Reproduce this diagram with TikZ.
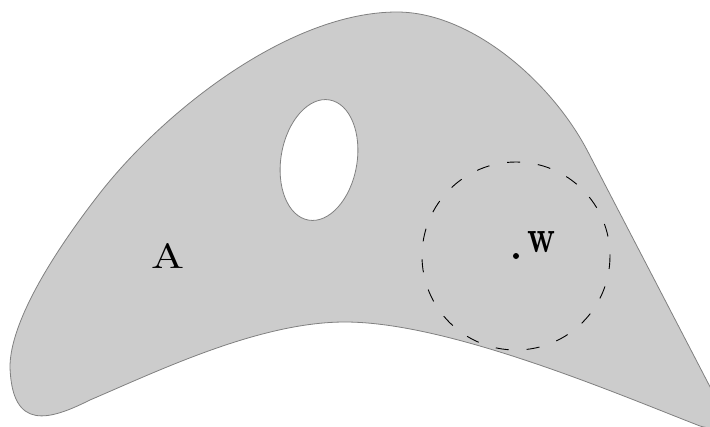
\documentclass[tikz,border=0pt]{standalone}
\usepackage{graphicx}
\begin{document}
\begin{tikzpicture}[x=1pt,y=-1pt,
  blob/.style={fill=black!20, draw=black!50, line width=0.8pt},
  hole/.style={fill=white, draw=black!50, line width=0.8pt},
  nbhd/.style={draw=black, line width=0.9pt, dash pattern=on 13pt off 18pt},
  lbl/.style={inner sep=0pt, anchor=base}]
\useasboundingbox (0,0) rectangle (710,426);
\clip (0,0) rectangle (710,426);
\draw[blob]
  (345,322) .. controls (260,322) and (160,370) .. (90,400)
  .. controls (50,420) and (12,432) .. (10,367)
  .. controls (10,330) and (40,270) .. (100,193)
  .. controls (165,110) and (290,12) .. (397,12)
  .. controls (470,12) and (550,80) .. (587,150)
  -- (720,406)
  .. controls (730,425) and (720,432) .. (700,426)
  .. controls (620,395) and (450,322) .. cycle;
\draw[hole] (319,160) ellipse [x radius=38, y radius=61, rotate=-10];
\coordinate (w) at (516,256);
\draw[nbhd] (w) circle [radius=94];
\fill (w) circle [radius=3];
\node[lbl, anchor=base west] (wl) at (527,252) {\resizebox{28pt}{21pt}{\textbf{w}}};
\node[lbl] (A) at (168,268) {\resizebox{33pt}{25pt}{A}};
\end{tikzpicture}
\end{document}
